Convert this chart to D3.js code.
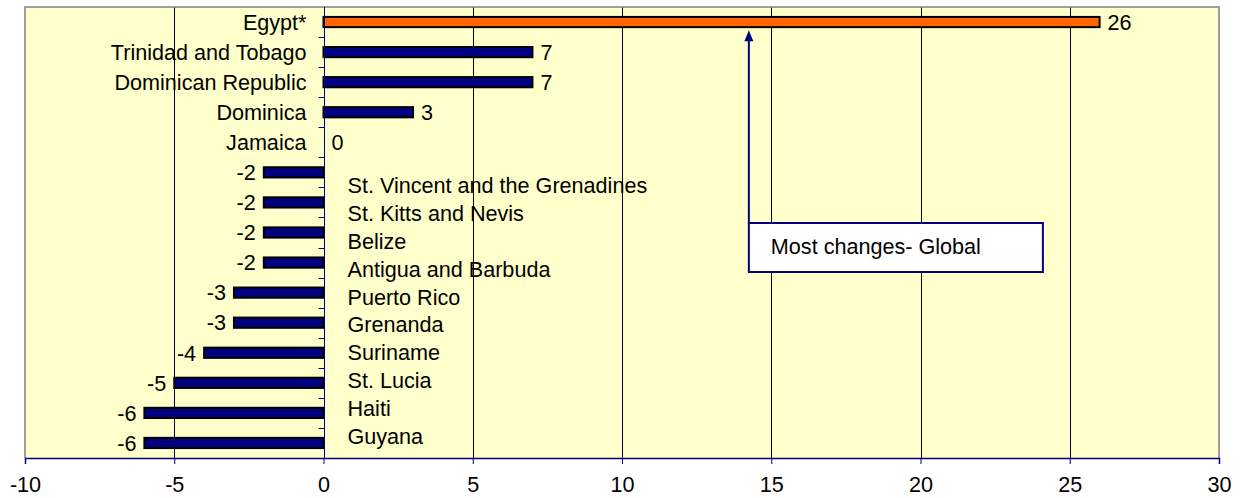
<!DOCTYPE html>
<html>
<head>
<meta charset="utf-8">
<script src="https://cdn.jsdelivr.net/npm/d3@7"></script>
<style>
  body { margin: 0; background: #fff; }
  svg text { font-family: "Liberation Sans", Arial, Helvetica, sans-serif; fill: #000; }
</style>
</head>
<body>
<svg id="chart" width="1241" height="498"></svg>
<script>
// data
var countries = ["Egypt*", "Trinidad and Tobago", "Dominican Republic", "Dominica", "Jamaica",
  "St. Vincent and the Grenadines", "St. Kitts and Nevis", "Belize", "Antigua and Barbuda",
  "Puerto Rico", "Grenanda", "Suriname", "St. Lucia", "Haiti", "Guyana"];
var changes = [26, 7, 7, 3, 0, -2, -2, -2, -2, -3, -3, -4, -5, -6, -6];
var highlighted = ["Egypt*"];
var xTicks = [-10, -5, 0, 5, 10, 15, 20, 25, 30];
var note = "Most changes- Global";
var noteRange = [14.25, 24.1]; // data units, arrow sits at the left edge

var rows = countries.map(function(c, i) { return { name: c, value: changes[i] }; });

var W = 1241, H = 498;
var margin = { top: 7, right: 22, bottom: 40, left: 25 };
var width = W - margin.left - margin.right,
    height = H - margin.top - margin.bottom;

var NAVY = "#000080", ORANGE = "#FF6600";
var FS = "21.6px";

var svg = d3.select("#chart");
var g = svg.append("g").attr("transform", "translate(" + margin.left + "," + margin.top + ")");

var x = d3.scaleLinear().domain([-10, 30]).range([0, width]);
var y = d3.scaleBand().domain(countries).range([0, height]).paddingInner(0.66).paddingOuter(0.33);

// background
g.append("rect")
  .attr("width", width).attr("height", height)
  .attr("fill", "#FFFFCC");

// vertical grid lines
g.append("g").selectAll("line")
  .data(xTicks.filter(function(d) { return d !== 0 && d !== -10 && d !== 30; }))
  .enter().append("line")
  .attr("x1", function(d) { return Math.round(x(d)) + 0.5; })
  .attr("x2", function(d) { return Math.round(x(d)) + 0.5; })
  .attr("y1", 0).attr("y2", height)
  .attr("stroke", "#000").attr("stroke-width", 1);

// grey frame (left, top, right)
g.append("path")
  .attr("d", "M0," + height + "V0H" + width + "V" + height)
  .attr("fill", "none").attr("stroke", "#808080").attr("stroke-width", 1.5);

// bars
g.append("g").selectAll("rect")
  .data(rows)
  .enter().append("rect")
  .attr("x", function(d) { return x(Math.min(0, d.value)); })
  .attr("y", function(d) { return y(d.name); })
  .attr("width", function(d) { return Math.abs(x(d.value) - x(0)); })
  .attr("height", y.bandwidth())
  .attr("fill", function(d) { return highlighted.indexOf(d.name) >= 0 ? ORANGE : NAVY; })
  .attr("stroke", "#000").attr("stroke-width", function(d) { return d.value === 0 ? 0 : 2; });

// value labels
g.append("g").selectAll("text")
  .data(rows)
  .enter().append("text")
  .attr("x", function(d) { return d.value < 0 ? x(d.value) - 8 : x(d.value) + 8; })
  .attr("y", function(d) { return y(d.name) + y.bandwidth() / 2; })
  .attr("dy", "0.36em")
  .attr("text-anchor", function(d) { return d.value < 0 ? "end" : "start"; })
  .style("font-size", FS)
  .text(function(d) { return d.value; });

// category names: positives to the left of the axis, negatives to the right
var posRows = rows.filter(function(d) { return d.value >= 0; });
var negRows = rows.filter(function(d) { return d.value < 0; });

g.append("g").selectAll("text")
  .data(posRows)
  .enter().append("text")
  .attr("x", x(0) - 17)
  .attr("y", function(d) { return y(d.name) + y.bandwidth() / 2; })
  .attr("dy", "0.36em")
  .attr("text-anchor", "end")
  .style("font-size", FS)
  .text(function(d) { return d.name; });

// the negative names sit on their own, slightly tighter spacing
var yNeg = d3.scalePoint()
  .domain(negRows.map(function(d) { return d.name; }))
  .range([y(negRows[0].name) + y.bandwidth() / 2 + 13,
          y(negRows[negRows.length - 1].name) + y.bandwidth() / 2 - 7]);

g.append("g").selectAll("text")
  .data(negRows)
  .enter().append("text")
  .attr("x", x(0) + 24)
  .attr("y", function(d) { return yNeg(d.name); })
  .attr("dy", "0.36em")
  .attr("text-anchor", "start")
  .style("font-size", FS)
  .text(function(d) { return d.name; });

// value axis at 0 with ticks between categories
var x0 = Math.round(x(0)) + 0.5;
g.append("line")
  .attr("x1", x0).attr("x2", x0).attr("y1", 0).attr("y2", height)
  .attr("stroke", NAVY).attr("stroke-width", 1);
var bounds = countries.map(function(c) { return y(c) - y.step() * y.paddingInner() / 2; }).slice(1);
g.append("g").selectAll("line")
  .data(bounds)
  .enter().append("line")
  .attr("x1", x0 - 6).attr("x2", x0)
  .attr("y1", function(d) { return Math.round(d) + 0.5; })
  .attr("y2", function(d) { return Math.round(d) + 0.5; })
  .attr("stroke", NAVY);

// bottom axis
var xAxis = d3.axisBottom(x)
  .tickValues(xTicks)
  .tickSize(6)
  .tickPadding(13)
  .tickFormat(function(d) { return String(d); });

var ax = g.append("g")
  .attr("transform", "translate(0," + height + ")")
  .call(xAxis);
ax.select(".domain").attr("stroke", NAVY).attr("stroke-width", 1.5);
ax.selectAll(".tick line").attr("stroke", NAVY);
ax.selectAll(".tick text")
  .style("font-size", FS)
  .style("font-family", '"Liberation Sans", Arial, sans-serif')
  .attr("fill", "#000");

// annotation: box with arrow to the Egypt bar
var ax0 = x(noteRange[0]), ax1 = x(noteRange[1]);
var boxTop = 216, boxH = 49;
var tipY = y(countries[0]) + y.bandwidth() + 3;

g.append("line")
  .attr("x1", ax0).attr("x2", ax0)
  .attr("y1", boxTop).attr("y2", tipY + 9)
  .attr("stroke", NAVY).attr("stroke-width", 2);
g.append("path")
  .attr("d", "M" + ax0 + "," + tipY + "L" + (ax0 - 4.5) + "," + (tipY + 11) + "L" + (ax0 + 4.5) + "," + (tipY + 11) + "Z")
  .attr("fill", NAVY);

g.append("rect")
  .attr("x", ax0).attr("y", boxTop)
  .attr("width", ax1 - ax0).attr("height", boxH)
  .attr("fill", "#fff").attr("stroke", NAVY).attr("stroke-width", 2);

g.append("text")
  .attr("x", ax0 + 22)
  .attr("y", boxTop + 31)
  .style("font-size", FS)
  .text(note);
</script>
</body>
</html>
